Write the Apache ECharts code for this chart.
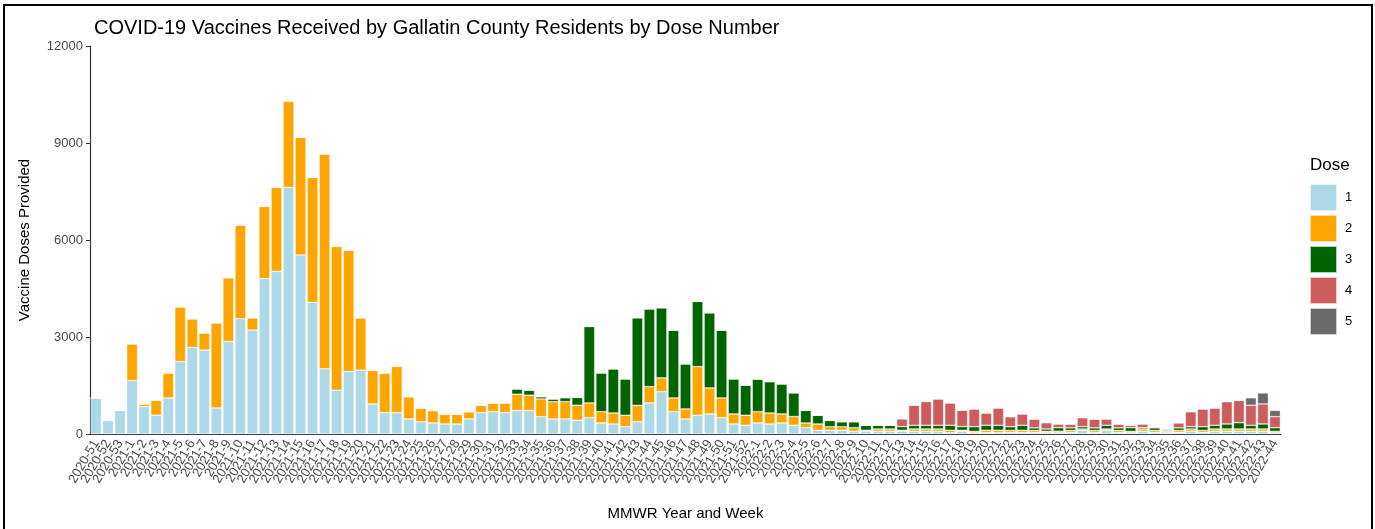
<!DOCTYPE html>
<html>
<head>
<meta charset="utf-8">
<script src="https://cdn.jsdelivr.net/npm/echarts@6/dist/echarts.min.js"></script>
<style>
  html, body { margin: 0; padding: 0; background: #fff; }
  #main { width: 1375px; height: 529px; }
</style>
</head>
<body>
<div id="main"></div>
<script>
// weeks 2020-51 .. 2022-44
let weeks = ['2020-51', '2020-52', '2020-53'];
for (let w = 1; w <= 52; w++) weeks.push('2021-' + w);
for (let w = 1; w <= 44; w++) weeks.push('2022-' + w);

let dose1 = [1110, 420, 730, 1650, 850, 580, 1115, 2240, 2675, 2595,
  805, 2860, 3565, 3215, 4805, 5030, 7625, 5535, 4070, 2015,
  1355, 1930, 1975, 930, 660, 660, 465, 380, 340, 310,
  310, 465, 660, 690, 660, 725, 725, 535, 465, 465,
  425, 505, 340, 310, 225, 380, 960, 1310, 690, 465,
  580, 620, 505, 310, 270, 340, 310, 340, 270, 195,
  115, 115, 115, 85, 85, 85, 85, 85, 85, 85,
  85, 40, 85, 40, 40, 40, 50, 50, 50, 40,
  40, 50, 115, 50, 115, 50, 40, 85, 50, 40,
  50, 85, 50, 85, 85, 85, 85, 85, 40];
let dose2 = [0, 0, 0, 1140, 80, 465, 775, 1695, 890, 535,
  2635, 1975, 2900, 380, 2240, 2595, 2675, 3640, 3865, 6650,
  4450, 3760, 1620, 1045, 1230, 1435, 690, 425, 385, 300,
  300, 225, 230, 270, 300, 505, 475, 550, 535, 535,
  465, 455, 350, 340, 355, 505, 505, 425, 425, 310,
  1505, 805, 610, 310, 310, 350, 340, 280, 270, 145,
  195, 110, 110, 110, 30, 70, 70, 30, 70, 70,
  70, 75, 30, 40, 75, 75, 60, 65, 60, 45,
  45, 60, 40, 60, 40, 60, 40, 70, 60, 40,
  60, 70, 60, 70, 70, 70, 70, 70, 40];
let dose3 = [0, 0, 0, 0, 0, 0, 0, 0, 0, 0,
  0, 0, 0, 0, 0, 0, 0, 0, 0, 0,
  0, 0, 0, 0, 0, 0, 0, 0, 0, 0,
  0, 0, 0, 0, 0, 165, 155, 70, 85, 125,
  240, 2365, 1200, 1365, 1125, 2710, 2405, 2170, 2095, 1395,
  2015, 2325, 2095, 1085, 930, 1010, 970, 930, 735, 390,
  270, 195, 155, 185, 155, 115, 115, 115, 115, 115,
  115, 155, 115, 145, 155, 155, 115, 155, 80, 70,
  110, 80, 70, 80, 115, 80, 115, 40, 80, 30,
  80, 70, 115, 115, 155, 195, 115, 155, 115];
let dose4 = [0, 0, 0, 0, 0, 0, 0, 0, 0, 0,
  0, 0, 0, 0, 0, 0, 0, 0, 0, 0,
  0, 0, 0, 0, 0, 0, 0, 0, 0, 0,
  0, 0, 0, 0, 0, 0, 0, 0, 0, 0,
  0, 0, 0, 0, 0, 0, 0, 0, 0, 0,
  0, 0, 0, 0, 0, 0, 0, 0, 0, 0,
  0, 0, 0, 0, 0, 0, 0, 240, 620, 735,
  815, 690, 505, 550, 380, 535, 310, 350, 270, 195,
  115, 115, 280, 270, 195, 115, 75, 115, 30, 40,
  155, 465, 550, 535, 690, 690, 620, 620, 340];
let dose5 = [];
for (let i = 0; i < weeks.length; i++) dose5.push(0);
dose5[96] = 230; dose5[97] = 340; dose5[98] = 195;

let doseNames = ['1', '2', '3', '4', '5'];
let doseColors = ['#ADD8E6', '#FFA500', '#006400', '#CD5C5C', '#696969'];
let yTicks = [0, 3000, 6000, 9000, 12000];

const chart = echarts.init(document.getElementById('main'));

let series = [dose1, dose2, dose3, dose4, dose5].map((d, i) => {
  return {
    name: doseNames[i],
    type: 'bar',
    stack: 'dose',
    data: d,
    barCategoryGap: '10%',
    itemStyle: {
      color: doseColors[i],
      borderColor: 'rgba(255,255,255,0.7)',
      borderWidth: 0.6
    }
  };
});

const option = {
  animation: false,
  textStyle: { fontFamily: 'Liberation Sans, Arial, sans-serif' },
  title: {
    text: 'COVID-19 Vaccines Received by Gallatin County Residents by Dose Number',
    left: 89,
    top: 13,
    textStyle: { fontSize: 20, fontWeight: 'normal', color: '#000' }
  },
  legend: {
    orient: 'vertical',
    left: 1309,
    top: 183,
    padding: 0,
    itemWidth: 27,
    itemHeight: 27,
    itemGap: 2,
    icon: 'rect',
    data: doseNames,
    textStyle: { fontSize: 13, color: '#000', padding: [0, 0, 0, 3] }
  },
  graphic: [
    {
      type: 'rect',
      shape: { x: 4, y: 5, width: 1368, height: 540 },
      style: { fill: 'none', stroke: '#000', lineWidth: 2 }
    },
    {
      type: 'text',
      left: 1310,
      top: 157,
      style: { text: 'Dose', fontSize: 17, fill: '#000', fontFamily: 'Liberation Sans, Arial, sans-serif' }
    }
  ],
  grid: {
    left: 90,
    right: 94,
    top: 46,
    bottom: 95
  },
  xAxis: {
    type: 'category',
    data: weeks,
    name: 'MMWR Year and Week',
    nameLocation: 'middle',
    nameGap: 72,
    nameTextStyle: { fontSize: 15, color: '#000' },
    axisLine: { lineStyle: { color: '#333', width: 1.2 } },
    axisTick: { alignWithLabel: true, length: 4, lineStyle: { color: '#333' } },
    axisLabel: {
      interval: 0,
      rotate: 60,
      fontSize: 13,
      color: '#4d4d4d',
      margin: 7
    }
  },
  yAxis: {
    type: 'value',
    min: yTicks[0],
    max: yTicks[yTicks.length - 1],
    interval: 3000,
    name: 'Vaccine Doses Provided',
    nameLocation: 'middle',
    nameGap: 58,
    nameTextStyle: { fontSize: 15, color: '#000' },
    axisLine: { show: true, lineStyle: { color: '#333', width: 1.2 } },
    axisTick: { show: true, length: 4, lineStyle: { color: '#333' } },
    splitLine: { show: false },
    axisLabel: { fontSize: 13, color: '#4d4d4d', margin: 7, formatter: (v) => String(v) }
  },
  series: series
};
chart.setOption(option);
</script>
</body>
</html>
